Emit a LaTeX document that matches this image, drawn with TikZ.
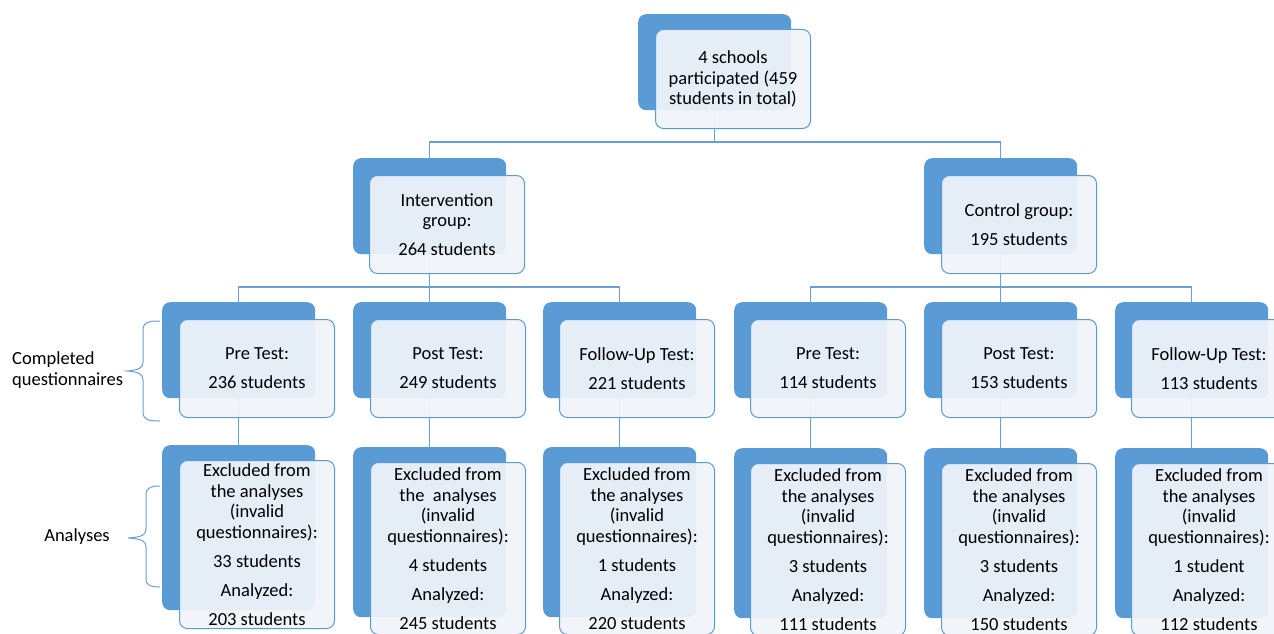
\documentclass[tikz,border=0pt]{standalone}
\usepackage{fontspec}
\setmainfont{Carlito}
\pgfdeclarelayer{bg}
\pgfsetlayers{bg,main}
\definecolor{myblue}{HTML}{5B9BD5}
\definecolor{lineblue}{HTML}{6A9FD3}
\definecolor{frontfill}{HTML}{F0F4FA}
\begin{document}
\begin{tikzpicture}[x=1pt,y=-1pt,
  back/.style={fill=myblue, rounded corners=8pt, inner sep=0pt, minimum width=153pt, minimum height=96pt, anchor=north west},
  front/.style={draw=myblue, line width=1pt, fill=frontfill, fill opacity=0.93, text opacity=1, rounded corners=8pt, inner sep=0pt, minimum width=155pt, minimum height=98pt, anchor=north west, align=center, font=\fontsize{18.5}{20.5}\selectfont},
  backtall/.style={back, minimum height=165pt},
  fronttall/.style={front, minimum height=172pt},
  conn/.style={draw=lineblue, line width=1.3pt},
  lbl/.style={font=\fontsize{18.5}{21.5}\selectfont, align=left, inner sep=0pt},
  brc/.style={draw=lineblue, line width=1pt}
]
\useasboundingbox (0,0) rectangle (1274,634);

% top
\node[back] (topb) at (638,14) {};
\node[front, minimum height=99pt] (top) at (655,29) {4 schools\\participated (459\\students in total)};

% level 2
\node[back] (intb) at (353,158) {};
\node[front] (int) at (369,175) {Intervention\\group:\\[8.5pt]264 students};
\node[back] (ctlb) at (924,158) {};
\node[front] (ctl) at (941,175) {Control group:\\[8.5pt]195 students};

% level 3
\node[back] (c1b) at (162,302) {};
\node[front] (c1) at (179,319) {Pre Test:\\[8.5pt]236 students};
\node[back] (c2b) at (353,302) {};
\node[front] (c2) at (370,319) {Post Test:\\[8.5pt]249 students};
\node[back] (c3b) at (543,302) {};
\node[front] (c3) at (559,319) {Follow-Up Test:\\[8.5pt]221 students};
\node[back] (c4b) at (734,302) {};
\node[front] (c4) at (750,319) {Pre Test:\\[8.5pt]114 students};
\node[back] (c5b) at (924,302) {};
\node[front] (c5) at (941,319) {Post Test:\\[8.5pt]153 students};
\node[back] (c6b) at (1115,302) {};
\node[front] (c6) at (1131,319) {Follow-Up Test:\\[8.5pt]113 students};

% level 4
\node[backtall] (d1b) at (162,445) {};
\node[fronttall, minimum height=168pt] (d1) at (179,460) {Excluded from\\the analyses\\(invalid\\questionnaires):\\[8.5pt]33 students\\[8.5pt]Analyzed:\\[8.5pt]203 students};
\node[backtall, minimum height=170pt] (d2b) at (353,447) {};
\node[fronttall] (d2) at (370,462) {Excluded from\\the\ \ analyses\\(invalid\\questionnaires):\\[8.5pt]4 students\\[8.5pt]Analyzed:\\[8.5pt]245 students};
\node[backtall, minimum height=170pt] (d3b) at (543,447) {};
\node[fronttall] (d3) at (559,462) {Excluded from\\the analyses\\(invalid\\questionnaires):\\[8.5pt]1 students\\[8.5pt]Analyzed:\\[8.5pt]220 students};
\node[backtall, minimum height=170pt] (d4b) at (734,448) {};
\node[fronttall] (d4) at (750,463) {Excluded from\\the analyses\\(invalid\\questionnaires):\\[8.5pt]3 students\\[8.5pt]Analyzed:\\[8.5pt]111 students};
\node[backtall, minimum height=170pt] (d5b) at (924,448) {};
\node[fronttall] (d5) at (941,463) {Excluded from\\the analyses\\(invalid\\questionnaires):\\[8.5pt]3 students\\[8.5pt]Analyzed:\\[8.5pt]150 students};
\node[backtall, minimum height=170pt] (d6b) at (1115,448) {};
\node[fronttall] (d6) at (1131,463) {Excluded from\\the analyses\\(invalid\\questionnaires):\\[8.5pt]1 student\\[8.5pt]Analyzed:\\[8.5pt]112 students};

% side labels
\node[lbl, anchor=west] (lcq) at (12,370) {Completed\\questionnaires};
\node[lbl, anchor=center] (lan) at (77,537) {Analyses};

\begin{pgfonlayer}{bg}
\draw[conn] (topb.south) -- (topb.south |- 0,142) -| (intb.north);
\draw[conn] (topb.south) -- (topb.south |- 0,142) -| (ctlb.north);
\draw[conn] (intb.south) -- (intb.south |- 0,287) -| (c1b.north);
\draw[conn] (intb.south) -- (c2b.north);
\draw[conn] (intb.south) -- (intb.south |- 0,287) -| (c3b.north);
\draw[conn] (ctlb.south) -- (ctlb.south |- 0,287) -| (c4b.north);
\draw[conn] (ctlb.south) -- (c5b.north);
\draw[conn] (ctlb.south) -- (ctlb.south |- 0,287) -| (c6b.north);
\draw[conn] (c1b.south) -- (d1b.north);
\draw[conn] (c2b.south) -- (d2b.north);
\draw[conn] (c3b.south) -- (d3b.north);
\draw[conn] (c4b.south) -- (d4b.north);
\draw[conn] (c5b.south) -- (d5b.north);
\draw[conn] (c6b.south) -- (d6b.north);
\end{pgfonlayer}

% braces
\draw[brc] (160,321) .. controls (149,321) and (143,322) .. (143,330) -- (143,362)
  .. controls (143,368) and (139,370) .. (127,371)
  .. controls (139,372) and (143,374) .. (143,380) -- (143,412)
  .. controls (143,420) and (149,421) .. (160,421);
\draw[brc] (160,486) .. controls (152,486) and (146,487) .. (146,495) -- (146,529)
  .. controls (146,535) and (142,537) .. (128,538)
  .. controls (142,539) and (146,541) .. (146,547) -- (146,579)
  .. controls (146,586) and (152,587) .. (160,587);
\end{tikzpicture}
\end{document}
